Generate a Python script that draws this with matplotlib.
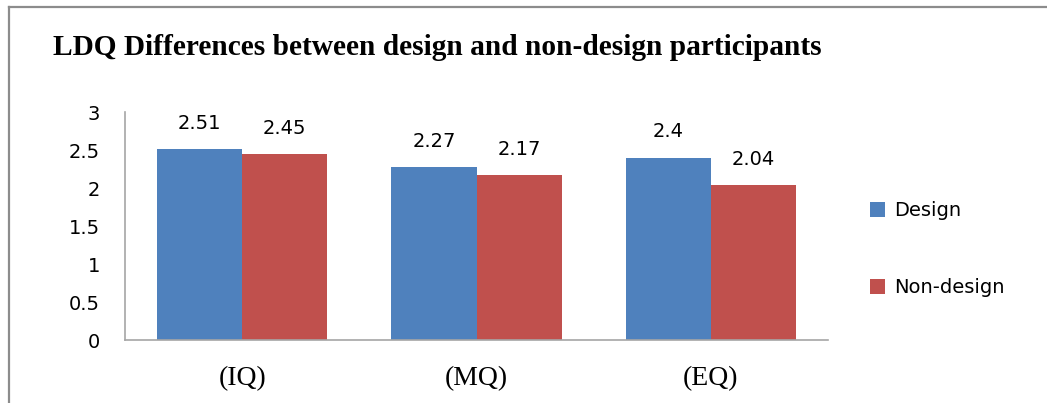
import matplotlib
matplotlib.use("Agg")
import matplotlib.pyplot as plt
from matplotlib.lines import Line2D
import numpy as np


categories = ["(IQ)", "(MQ)", "(EQ)"]
design = [2.51, 2.27, 2.4]
non_design = [2.45, 2.17, 2.04]
series_names = ["Design", "Non-design"]
y_ticks = [0, 0.5, 1, 1.5, 2, 2.5, 3]

BLUE = "#4F81BD"
RED = "#C0504D"
SANS = ["DejaVu Sans"]
SERIF = ["Liberation Serif", "DejaVu Serif"]

W, H = 1047, 403
fig = plt.figure(figsize=(W / 100, H / 100), dpi=100)

# axes placed in pixel terms
left, right, bottom, top = 125, 828, 340, 112
ax = fig.add_axes([left / W, 1 - bottom / H, (right - left) / W, (bottom - top) / H])

x = np.arange(len(categories))
bw = 0.363
b1 = ax.bar(x - bw / 2, design, bw, color=BLUE, label=series_names[0])
b2 = ax.bar(x + bw / 2, non_design, bw, color=RED, label=series_names[1])

for bars, vals in ((b1, design), (b2, non_design)):
    for rect, v in zip(bars, vals):
        ax.text(rect.get_x() + rect.get_width() / 2, v + 0.265, f"{v:g}",
                ha="center", va="baseline", fontsize=14, family=SANS)

ax.set_xlim(-0.5, 2.5)
ax.set_ylim(0, 3)
ax.set_yticks(y_ticks)
ax.set_yticklabels([f"{t:g}" for t in y_ticks], family=SANS, fontsize=14)
ax.set_xticks(x)
ax.set_xticklabels(categories, family=SERIF, fontsize=20)
ax.tick_params(axis="both", length=0)
ax.tick_params(axis="y", pad=18)
ax.tick_params(axis="x", pad=19)

for s in ("top", "right"):
    ax.spines[s].set_visible(False)
for s in ("left", "bottom"):
    ax.spines[s].set_color("#A6A6A6")
    ax.spines[s].set_linewidth(1.2)

fig.text(53 / W, 1 - 55 / H, "LDQ Differences between design and non-design participants",
         family=SERIF, fontweight="bold", fontsize=21.2, ha="left", va="baseline")

fig.legend(handles=[b1, b2], loc="center left", bbox_to_anchor=(852 / W, 1 - 249 / H),
           frameon=False, prop={"family": SANS, "size": 14}, labelspacing=3.0,
           handlelength=0.8, handleheight=0.8, handletextpad=0.45)

# outer frame (only top and left visible in the crop)
fig.add_artist(Line2D([8.5 / W, 1], [1 - 6.5 / H, 1 - 6.5 / H], color="#8C8C8C", lw=1.6))
fig.add_artist(Line2D([8.5 / W, 8.5 / W], [0, 1 - 6.5 / H], color="#8C8C8C", lw=1.6))

fig.savefig("out.png", dpi=100)
